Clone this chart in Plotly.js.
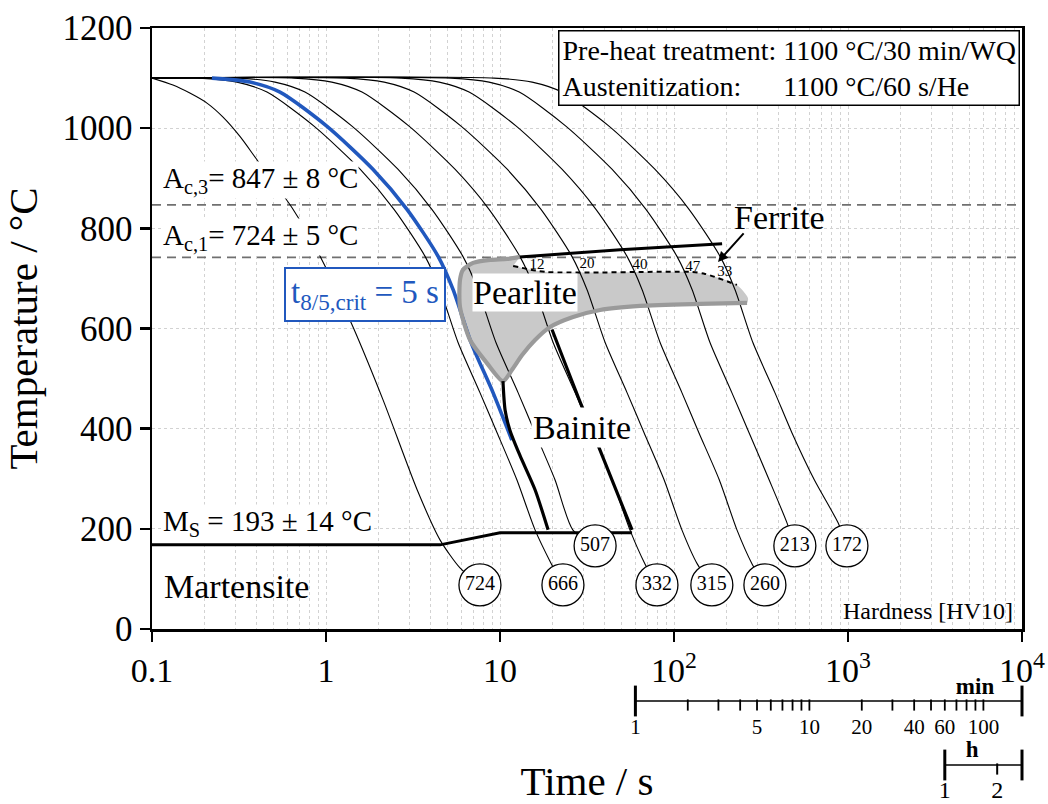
<!DOCTYPE html>
<html><head><meta charset="utf-8">
<script src="https://cdn.plot.ly/plotly-3.0.1.min.js"></script>
<style>html,body{margin:0;padding:0;background:#fff}</style>
</head><body><div id="chart" style="width:1048px;height:804px"></div>
<script>
// ---------------- DATA ----------------
const timeTickVals = [0.1, 1, 10, 100, 1000, 10000];
const timeTickText = ['0.1', '1', '10', '10<sup>2</sup>', '10<sup>3</sup>', '10<sup>4</sup>'];
const tempTickVals = [0, 200, 400, 600, 800, 1000, 1200];

// cooling curves (time in s, temperature in °C)
const c724_t = [0.1, 0.132, 0.165, 0.207, 0.256, 0.321, 0.401, 0.638, 0.948, 1.43, 2.13, 3.34, 4.52, 5.89];
const c724_T = [1100, 1086, 1070, 1050, 1022, 983, 937, 841, 737, 603, 457, 278, 178, 122];
const c666_t = [0.1, 0.186, 0.308, 0.458, 0.853, 1.57, 2.46, 3.71, 4.52, 5.74, 7.67, 9.62, 12.5, 15.9, 19.6];
const c666_T = [1100, 1100, 1092, 1072, 1004, 918, 838, 744, 678, 572, 472, 392, 298, 198, 132];
const c507_t = [0.1, 0.308, 0.509, 0.757, 1.41, 2.59, 4.06, 6.12, 7.46, 9.48, 12.7, 15.9, 20.7, 26.2];
const c507_T = [1100, 1100, 1092, 1072, 1004, 918, 838, 744, 678, 572, 472, 392, 298, 198];
const c332_t = [0.1, 0.655, 1.08, 1.61, 3.0, 5.51, 8.65, 13.0, 15.9, 20.2, 27.0, 33.8, 44.1, 55.8, 68.1];
const c332_T = [1100, 1100, 1092, 1072, 1004, 918, 838, 744, 678, 572, 472, 392, 298, 198, 130];
const c315_t = [0.1, 1.30, 2.16, 3.21, 5.97, 11.0, 17.2, 25.9, 31.6, 40.2, 53.7, 67.3, 87.7, 111, 136];
const c315_T = [1100, 1100, 1092, 1072, 1004, 918, 838, 744, 678, 572, 472, 392, 298, 198, 130];
const c260_t = [0.1, 2.70, 4.47, 6.64, 12.4, 22.7, 35.6, 53.7, 65.5, 83.2, 111, 139, 182, 230, 281];
const c260_T = [1100, 1100, 1092, 1072, 1004, 918, 838, 744, 678, 572, 472, 392, 298, 198, 130];
const c213_t = [0.1, 5.22, 8.65, 12.9, 23.9, 44.0, 69.0, 104, 127, 161, 215, 270, 352, 446];
const c213_T = [1100, 1100, 1092, 1072, 1004, 918, 838, 744, 678, 572, 472, 392, 298, 212];
const c172_t = [0.1, 9.23, 15.3, 22.7, 42.3, 77.6, 122, 184, 224, 284, 380, 476, 640, 877];
const c172_T = [1100, 1100, 1092, 1072, 1004, 918, 838, 744, 678, 572, 472, 392, 298, 212];

// critical curve t8/5 = 5 s
const crit_t = [0.221, 0.366, 0.544, 1.01, 1.86, 2.92, 4.41, 5.37, 6.82, 9.12, 11.7];
const crit_T = [1100, 1092, 1072, 1004, 918, 838, 744, 678, 572, 472, 377];

// hardness values (HV10) and their circle positions
const hvValues = [724, 666, 507, 332, 315, 260, 213, 172];
const hvTime   = [7.67, 23.0, 35.2, 79.8, 165, 333, 495, 986];
const hvTemp   = [88, 88, 166, 88, 88, 88, 166, 166];

// transformation lines
const pearlite_t = [13.0, 11.0, 8.77, 7.0, 6.12, 5.89, 5.89, 6.73, 8.41, 10.4, 11.7, 13.4, 15.9, 19.4, 26.3, 37.6, 63.8, 141, 263];
const pearlite_T = [743, 739, 737, 731, 717, 697, 643, 577, 531, 495, 517, 547, 577, 603, 623, 637, 645, 649, 651];
const pearliteTip_t = [266];
const pearliteTip_T = [661];
const ferriteStart_t = [13.0, 49.0, 189];
const ferriteStart_T = [743, 757, 769];
const ferriteEnd_t = [11.9, 18.2, 124, 151, 230];
const ferriteEnd_T = [725, 713, 713, 709, 687];
const bainiteLeft_t = [10.4, 10.7, 11.4, 13.0, 15.9, 18.9];
const bainiteLeft_T = [495, 437, 397, 347, 278, 198];
const bainiteRight_t = [19.9, 29.6, 36.1, 57.4];
const bainiteRight_T = [598, 444, 372, 198];
const ms_t = [0.1, 4.52, 10.0, 57.4];
const ms_T = [168, 168, 192, 192];
const acLines = [847, 742];

// ferrite fractions (%)
const ferritePct   = ['12', '20', '40', '47', '33'];
const ferritePct_t = [16.3, 31.6, 63.8, 128, 196];
const ferritePct_T = [727, 729, 727, 723, 713];

// secondary time scales
const minTicks = [1, 2, 3, 4, 5, 6, 7, 8, 9, 10, 20, 30, 40, 50, 60, 70, 80, 90, 100];
const minLabels = [1, 5, 10, 20, 40, 60, 100];
const hTicks = [2];
const hLabels = [1, 2];
const secPerMin = 60, secPerHour = 3600, scaleEnd = 10000;

// ---------------- STYLE / BUILD ----------------
const FONT = 'Liberation Serif, Times New Roman, serif';
const BLUE = '#2158be';
const lg = v => Math.log10(v);
const traces = [];
const SPL = {shape: 'spline', smoothing: 0.7};

// Ac dashed lines
acLines.forEach(v => traces.push({x: [0.1, 10000], y: [v, v], mode: 'lines',
  line: {color: '#707070', width: 1.8, dash: '9px,6px'}, hoverinfo: 'skip'}));

// pearlite fill
traces.push({
  x: pearlite_t.concat(pearliteTip_t, ferriteEnd_t.slice().reverse()),
  y: pearlite_T.concat(pearliteTip_T, ferriteEnd_T.slice().reverse()),
  mode: 'lines', fill: 'toself', fillcolor: '#c9c9c9', line: Object.assign({width: 0}, SPL), hoverinfo: 'skip'
});

// cooling curves ending at their hardness circles
const curves = [[c724_t, c724_T], [c666_t, c666_T], [c507_t, c507_T], [c332_t, c332_T],
                [c315_t, c315_T], [c260_t, c260_T], [c213_t, c213_T], [c172_t, c172_T]];
curves.forEach((c, i) => traces.push({
  x: c[0].concat([hvTime[i]]), y: c[1].concat([hvTemp[i]]), mode: 'lines',
  line: Object.assign({color: '#000', width: 1.1}, SPL), hoverinfo: 'skip'
}));

// critical curve
traces.push({x: crit_t, y: crit_T, mode: 'lines', line: Object.assign({color: BLUE, width: 3.6}, SPL), hoverinfo: 'skip'});

// pearlite outline
traces.push({x: pearlite_t, y: pearlite_T, mode: 'lines', line: Object.assign({color: '#9a9a9a', width: 4.2}, SPL), hoverinfo: 'skip'});
// ferrite start & end
traces.push({x: ferriteStart_t, y: ferriteStart_T, mode: 'lines', line: {color: '#000', width: 3}, hoverinfo: 'skip'});
traces.push({x: ferriteEnd_t, y: ferriteEnd_T, mode: 'lines', line: Object.assign({color: '#000', width: 2, dash: '5px,4px'}, SPL), hoverinfo: 'skip'});
// bainite boundaries
traces.push({x: bainiteLeft_t, y: bainiteLeft_T, mode: 'lines', line: Object.assign({color: '#000', width: 3.2}, SPL), hoverinfo: 'skip'});
traces.push({x: bainiteRight_t, y: bainiteRight_T, mode: 'lines', line: Object.assign({color: '#000', width: 3.2}, SPL), hoverinfo: 'skip'});
// Ms line
traces.push({x: ms_t, y: ms_T, mode: 'lines', line: {color: '#000', width: 3}, hoverinfo: 'skip'});

// ferrite percent labels
traces.push({x: ferritePct_t, y: ferritePct_T, mode: 'text', text: ferritePct, textposition: 'middle center',
  textfont: {family: FONT, size: 15, color: '#000'}, hoverinfo: 'skip', cliponaxis: false});

// hardness circles
traces.push({x: hvTime, y: hvTemp, mode: 'markers+text', text: hvValues.map(String), textposition: 'middle center',
  marker: {symbol: 'circle', size: 42, color: '#fff', line: {color: '#000', width: 1.3}},
  textfont: {family: FONT, size: 20, color: '#000'}, cliponaxis: false, hoverinfo: 'skip'});

// ---- secondary scales (min, h) drawn in a lower helper subplot ----
const sub = {xaxis: 'x2', yaxis: 'y2', hoverinfo: 'skip', cliponaxis: false};
const minLineY = 701, hLineY = 765;
traces.push(Object.assign({x: [secPerMin, scaleEnd], y: [minLineY, minLineY], mode: 'lines', line: {color: '#000', width: 1.6}}, sub));
traces.push(Object.assign({x: [secPerMin, scaleEnd], y: [minLineY, minLineY], mode: 'markers',
  marker: {symbol: 'line-ns', size: 22, line: {color: '#000', width: 3}}}, sub));
traces.push(Object.assign({x: minTicks.slice(1).map(m => m * secPerMin), y: minTicks.slice(1).map(() => minLineY + 4), mode: 'markers',
  marker: {symbol: 'line-ns', size: 8, line: {color: '#000', width: 1.8}}}, sub));
traces.push(Object.assign({x: minLabels.map(m => m * secPerMin), y: minLabels.map(() => 729), mode: 'text',
  text: minLabels.map(String), textfont: {family: FONT, size: 21, color: '#000'}}, sub));
traces.push(Object.assign({x: [5370], y: [688], mode: 'text', text: ['<b>min</b>'],
  textfont: {family: FONT, size: 23, color: '#000'}}, sub));
traces.push(Object.assign({x: [secPerHour, scaleEnd], y: [hLineY, hLineY], mode: 'lines', line: {color: '#000', width: 1.6}}, sub));
traces.push(Object.assign({x: [secPerHour, scaleEnd], y: [hLineY, hLineY], mode: 'markers',
  marker: {symbol: 'line-ns', size: 22, line: {color: '#000', width: 3}}}, sub));
traces.push(Object.assign({x: hTicks.map(h => h * secPerHour), y: hTicks.map(() => hLineY + 4), mode: 'markers',
  marker: {symbol: 'line-ns', size: 8, line: {color: '#000', width: 2}}}, sub));
traces.push(Object.assign({x: hLabels.map(h => h * secPerHour), y: hLabels.map(() => 792), mode: 'text',
  text: hLabels.map(String), textfont: {family: FONT, size: 24, color: '#000'}}, sub));
traces.push(Object.assign({x: [5165], y: [751], mode: 'text', text: ['<b>h</b>'],
  textfont: {family: FONT, size: 23, color: '#000'}}, sub));

// minor grid positions on log axis
const minorGrid = [];
for (let d = -1; d <= 3; d++) for (let m = 2; m <= 9; m++) minorGrid.push(m * Math.pow(10, d));

const lbl = (t, T, text, o) => Object.assign({xref: 'x', yref: 'y', x: lg(t), y: T, text: text, showarrow: false,
  font: {family: FONT, color: '#000', size: 34}}, o || {});

const annotations = [
  lbl(0.114, 896, 'A<sub>c,3</sub>= 847 ± 8 °C', {xanchor: 'left', bgcolor: '#fff', borderpad: 0, font: {family: FONT, size: 29, color: '#000'}}),
  lbl(0.114, 783, 'A<sub>c,1</sub>= 724 ± 5 °C', {xanchor: 'left', bgcolor: '#fff', borderpad: 0, font: {family: FONT, size: 29, color: '#000'}}),
  lbl(0.114, 212, 'M<sub>S</sub> = 193 ± 14 °C', {xanchor: 'left', bgcolor: '#fff', borderpad: 0, font: {family: FONT, size: 29, color: '#000'}}),
  lbl(0.114, 84, 'Martensite', {xanchor: 'left'}),
  lbl(1.675, 667, 't<sub>8/5,crit</sub> = 5 s', {bgcolor: '#fff', bordercolor: BLUE, borderwidth: 2, borderpad: 5,
      font: {family: FONT, size: 33, color: BLUE}}),
  lbl(13.9, 671, 'Pearlite', {bgcolor: '#fff', borderpad: 0}),
  lbl(29.6, 403, 'Bainite', {bgcolor: '#fff', borderpad: 1}),
  lbl(406, 821, 'Ferrite', {}),
  {xref: 'x', yref: 'y', x: lg(179), y: 733, ax: 27, ay: -30, text: '', showarrow: true,
   arrowhead: 2, arrowsize: 1, arrowwidth: 2, arrowcolor: '#000'},
  {xref: 'paper', yref: 'y', x: 0.992, y: 36, xanchor: 'right', yanchor: 'middle', text: 'Hardness [HV10]',
   showarrow: false, font: {family: FONT, size: 24, color: '#000'}},
  {xref: 'paper', yref: 'y', x: 0.9977, y: 1196, xanchor: 'right', yanchor: 'top', align: 'left',
   text: 'Pre-heat treatment: 1100 °C/30 min/WQ<br>Austenitization:\u00a0\u00a0\u00a0\u00a0\u00a0 1100 °C/60 s/He',
   showarrow: false, bgcolor: '#fff', bordercolor: '#000', borderwidth: 1.5, borderpad: 3,
   font: {family: FONT, size: 28, color: '#000'}}
];

const layout = {
  width: 1048, height: 804,
  margin: {l: 152, r: 26, t: 28, b: 10},
  paper_bgcolor: '#fff', plot_bgcolor: '#fff',
  showlegend: false, hovermode: false,
  font: {family: FONT, color: '#000', size: 28},
  xaxis: {
    type: 'log', range: [-1, 4], domain: [0, 1], anchor: 'y',
    tickmode: 'array', tickvals: timeTickVals, ticktext: timeTickText,
    ticks: 'outside', ticklen: 10, tickwidth: 2.5, tickcolor: '#000',
    showline: true, linewidth: 2.5, linecolor: '#000', mirror: true,
    showgrid: true, gridcolor: '#d2d2d2', griddash: 'dot', gridwidth: 1, zeroline: false,
    minor: {tickmode: 'array', tickvals: minorGrid, showgrid: true, gridcolor: '#d2d2d2', griddash: 'dot', gridwidth: 1, ticks: ''},
    tickfont: {family: FONT, size: 34, color: '#000'},
    title: {text: 'Time / s', font: {family: FONT, size: 41, color: '#000'}, standoff: 90}
  },
  yaxis: {
    range: [0, 1200], domain: [0.2154, 1], anchor: 'x',
    tickmode: 'array', tickvals: tempTickVals,
    ticks: 'outside', ticklen: 10, tickwidth: 2.5, tickcolor: '#000',
    showline: true, linewidth: 2.5, linecolor: '#000', mirror: true,
    showgrid: true, gridcolor: '#d2d2d2', griddash: 'dot', gridwidth: 1, zeroline: false,
    tickfont: {family: FONT, size: 35, color: '#000'},
    title: {text: 'Temperature / °C', font: {family: FONT, size: 41, color: '#000'}, standoff: 16}
  },
  xaxis2: {type: 'log', range: [-1, 4], domain: [0, 1], anchor: 'y2', visible: false, fixedrange: true},
  yaxis2: {range: [794, 629], domain: [0, 0.2154], anchor: 'x2', visible: false, fixedrange: true},
  annotations: annotations
};

Plotly.newPlot('chart', traces, layout, {staticPlot: true, displayModeBar: false});
</script>
</body></html>
